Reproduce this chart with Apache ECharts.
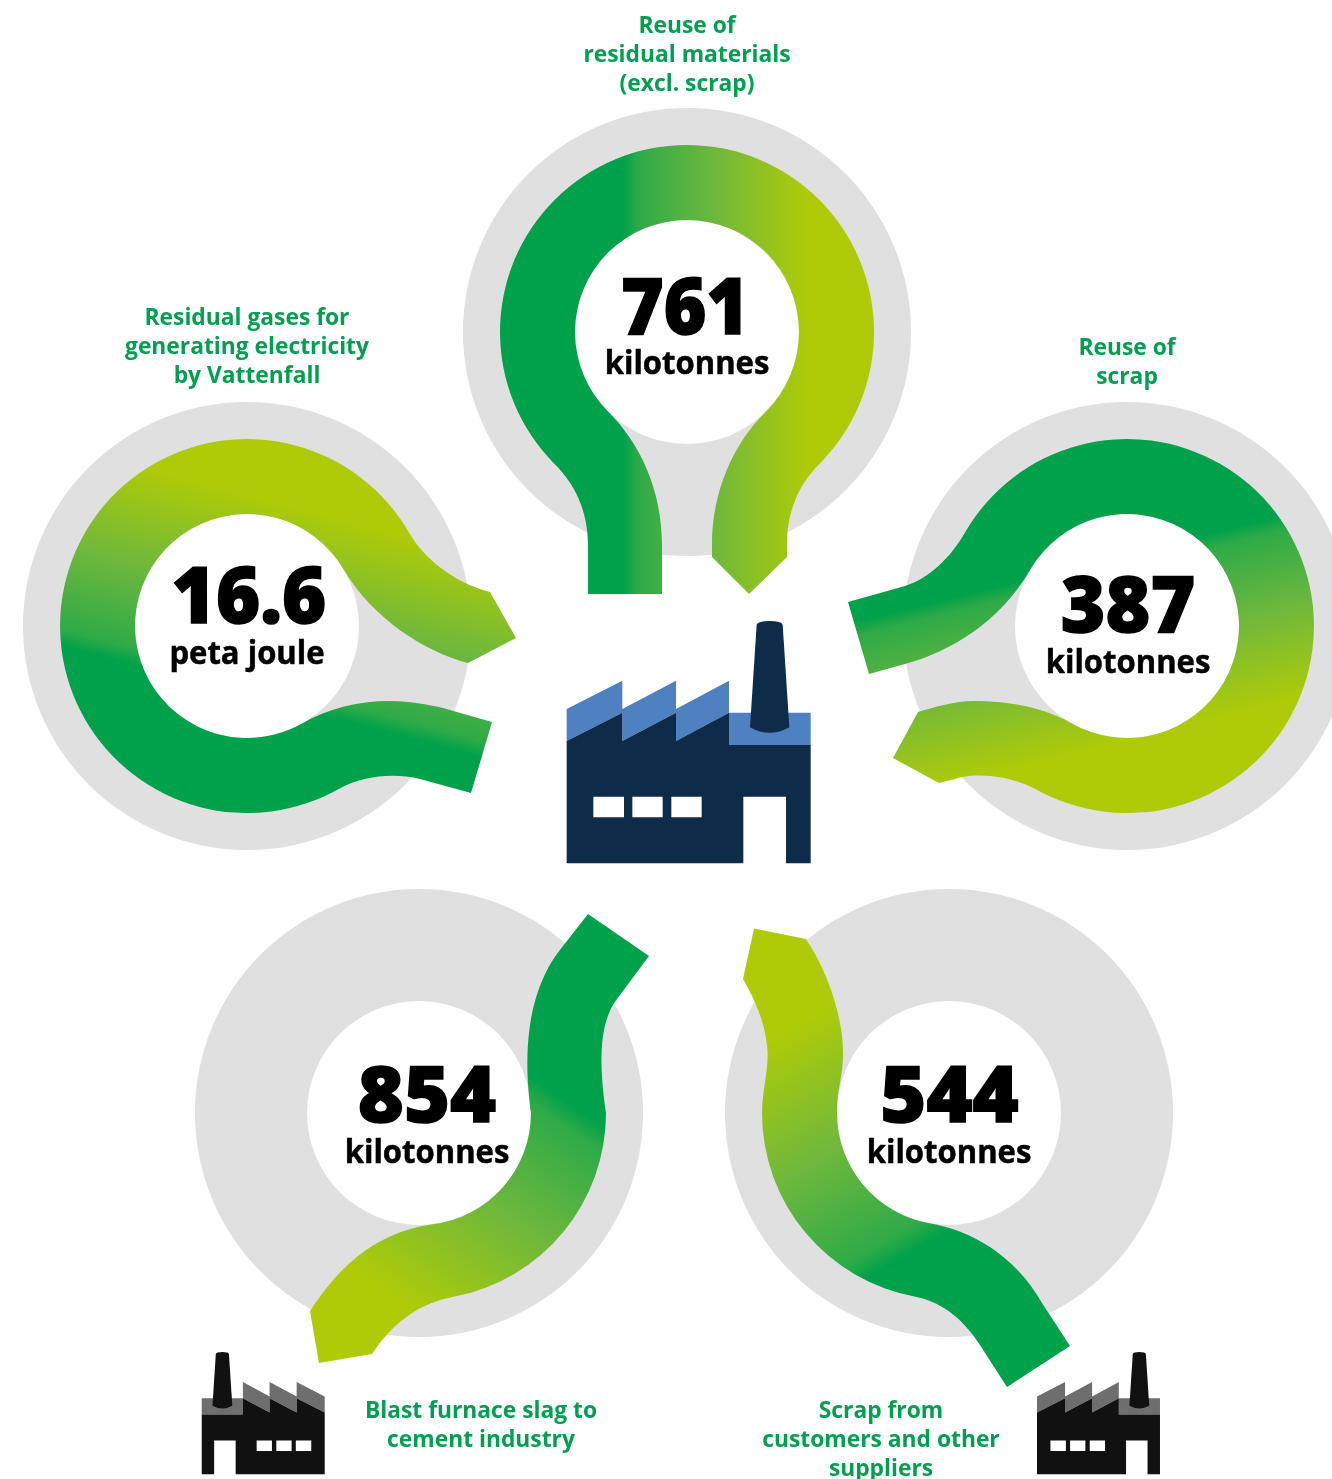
<!DOCTYPE html>
<html>
<head>
<meta charset="utf-8">
<title>Residual flows</title>
<style>html,body{margin:0;padding:0;background:#fff}#chart{width:1332px;height:1479px}</style>
<script src="https://cdn.jsdelivr.net/npm/echarts@6/dist/echarts.min.js"></script>
</head>
<body>
<div id="chart"></div>
<script>
// Flow figures, in the order top, left, right, bottom-left, bottom-right
var flowValues = ['761', '16.6', '387', '854', '544'];
var flowUnits = ['kilotonnes', 'peta joule', 'kilotonnes', 'kilotonnes', 'kilotonnes'];
var flowCaptions = [
  ['Reuse of', 'residual materials', '(excl. scrap)'],
  ['Residual gases for', 'generating electricity', 'by Vattenfall'],
  ['Reuse of', 'scrap'],
  ['Blast furnace slag to', 'cement industry'],
  ['Scrap from', 'customers and other', 'suppliers']
];

// Placement of each disc and its texts
var discCentres = [[687, 332], [247, 626], [1127, 626], [419, 1113], [949, 1113]];
var valueAnchors = [[685, 311.5], [249, 600.5], [1128, 609.5], [427, 1099.5], [949.5, 1099.5]];
var valueSqueeze = [0.935, 0.97, 0.98, 1.01, 1.01];
var unitAnchors = [[687, 365], [247, 655], [1128, 664], [427, 1154], [949, 1154]];
var captionAnchors = [[687, 26.5], [247, 318.5], [1127, 348.5], [481, 1411.5], [881, 1411.5]];
var CAPTION_LEADING = 29;

// Ribbon outlines running through each disc
var ribbonOutlines = [
  'M554.8 464.2 C574 483 588 510 588 545 L588 594 L662 594 L662 545 C662 490 640 443 607.8 411.2 A112 112 0 1 1 766.2 411.2 C734 443 712 490 712 545 L712 557 L749 594 L787 557 L787 545 C787 510 800 483 819.2 464.2 A187 187 0 1 0 554.8 464.2 Z',
  'M409 532.5 C423 557 452 582 490 592 L516 638 L468 663 C425 652 372 618 344 570 A112 112 0 1 0 303 723 C327 709 357 701 390 701 C411 701 430 705 443 708 L492 722 L471 793 L420 779 C395 773 365 775 340.5 788 A187 187 0 1 1 409 532.5 Z',
  'M965 532.5 C951 557 930 578 905 586 L848 602 L869 674 L905 664 C950 652 1000 622 1030 570 A112 112 0 1 1 1071 723 C1045 708 1010 701 973 701 C955 701 935 707 918 712 L893 758 L939 783 L955 779 C963 776 995 770 1033.5 788 A187 187 0 1 0 965 532.5 Z',
  'M588 914 L649 956 L617 999 C597 1025 600 1070 606 1113 A187 187 0 0 1 454.7 1296.6 C432 1301 400 1312 372 1354 L319 1363 L310 1311 C335 1273 370 1233 432.6 1224.2 A112 112 0 0 0 531 1113 C527 1080 518 1000 563 946 Z',
  'M754 928.5 L806 939 C830 975 848 1030 842 1070 C840 1085 837 1095 837 1113 A112 112 0 0 0 929.6 1223.3 C970 1230 1015 1255 1042 1303 L1070 1346 L1007 1387 L980 1345 C965 1322 945 1303 916.5 1297 A187 187 0 0 1 762 1113 C762 1090 770 1065 767 1045 C764 1020 755 1000 743 979 Z'
];
// Gradient axes, [x, y, x2, y2], running from green to yellow
var ribbonGradients = [
  [623, 332, 807, 332],
  [67, 647, 117, 459],
  [873, 617, 917, 794],
  [590, 1117, 445, 1332],
  [914, 1250, 787, 1030]
];
var gradientStops = [
  [0, '#00A14B'], [0.08, '#2EAA48'], [0.5, '#6FB83C'], [1, '#AFCB08']
];

// Factory icon, drawn in its own local units
var factoryWalls = 'M50 393 L217 308 L217 393 L378 308 L378 393 L537 308 L537 405 L782 405 L782 760 L708 760 L708 560 L580 560 L580 760 L50 760 Z M130 560 L130 622 L222 622 L222 560 Z M247 560 L247 622 L338 622 L338 560 Z M364 560 L364 622 L455 622 L455 560 Z';
var factoryRoof = 'M50 297 L217 212 L217 297 L378 212 L378 297 L537 212 L537 308 L782 308 L782 405 L537 405 L537 308 L378 393 L378 308 L217 393 L217 308 L50 393 Z';
var factoryStack = 'M620 44 Q624 33 659 33 Q694 33 698 44 L718 352 Q659 385 600 352 Z';
var factoryPlacements = [
  { x: 550, y: 610, sx: 1 / 3, sy: 1 / 3, wall: '#0F2B4A', roof: '#4F80C0' },
  { x: 333.1, y: 1346.5, sx: -0.168, sy: 0.168, wall: '#111111', roof: '#6E6E6E' },
  { x: 1028.6, y: 1346.5, sx: 0.168, sy: 0.168, wall: '#111111', roof: '#6E6E6E' }
];

var VALUE_FONT = '800 78px "Open Sans"';
var UNIT_FONT = '700 32px "Open Sans"';
var CAPTION_FONT = '700 24px "Open Sans"';
var GREEN_TEXT = '#00A050';

function centredText(text, x, y, font, fill, squeeze, weight) {
  return {
    type: 'text', x: x, y: y, scaleX: squeeze,
    style: {
      text: text, x: 0, y: 0, font: font, fill: fill,
      stroke: weight ? fill : null, lineWidth: weight || 0,
      textAlign: 'center', verticalAlign: 'middle'
    }
  };
}

function renderFlow(params) {
  var i = params.dataIndex;
  var c = discCentres[i];
  var g = ribbonGradients[i];
  var children = [
    { type: 'circle', shape: { cx: c[0], cy: c[1], r: 224 }, style: { fill: '#E0E0E0' } },
    { type: 'circle', shape: { cx: c[0], cy: c[1], r: 112 }, style: { fill: '#FFFFFF' } },
    {
      type: 'path', shape: { pathData: ribbonOutlines[i] },
      style: {
        fill: {
          type: 'linear', global: true, x: g[0], y: g[1], x2: g[2], y2: g[3],
          colorStops: gradientStops.map(function (s) { return { offset: s[0], color: s[1] }; })
        }
      }
    },
    centredText(flowValues[i], valueAnchors[i][0], valueAnchors[i][1], VALUE_FONT, '#000000', valueSqueeze[i], 1.5),
    centredText(flowUnits[i], unitAnchors[i][0], unitAnchors[i][1], UNIT_FONT, '#000000', 0.97, 0.5)
  ];
  flowCaptions[i].forEach(function (line, n) {
    children.push(centredText(line, captionAnchors[i][0], captionAnchors[i][1] + n * CAPTION_LEADING, CAPTION_FONT, GREEN_TEXT, 0.95));
  });
  return { type: 'group', children: children };
}

function renderFactory(params) {
  var p = factoryPlacements[params.dataIndex];
  return {
    type: 'group', x: p.x, y: p.y, scaleX: p.sx, scaleY: p.sy,
    children: [
      { type: 'path', shape: { pathData: factoryRoof }, style: { fill: p.roof } },
      { type: 'path', shape: { pathData: factoryWalls }, style: { fill: p.wall } },
      { type: 'path', shape: { pathData: factoryStack }, style: { fill: p.wall } }
    ]
  };
}

var chart = echarts.init(document.getElementById('chart'), null, { renderer: 'canvas' });
chart.setOption({
  animation: false,
  backgroundColor: '#FFFFFF',
  series: [{
    type: 'custom',
    coordinateSystem: 'none',
    silent: true,
    clip: false,
    renderItem: renderFlow,
    data: flowValues.map(function (v) { return [Number(v)]; })
  }, {
    type: 'custom',
    coordinateSystem: 'none',
    silent: true,
    clip: false,
    renderItem: renderFactory,
    data: factoryPlacements.map(function (p, n) { return [n]; })
  }]
});
</script>
</body>
</html>
